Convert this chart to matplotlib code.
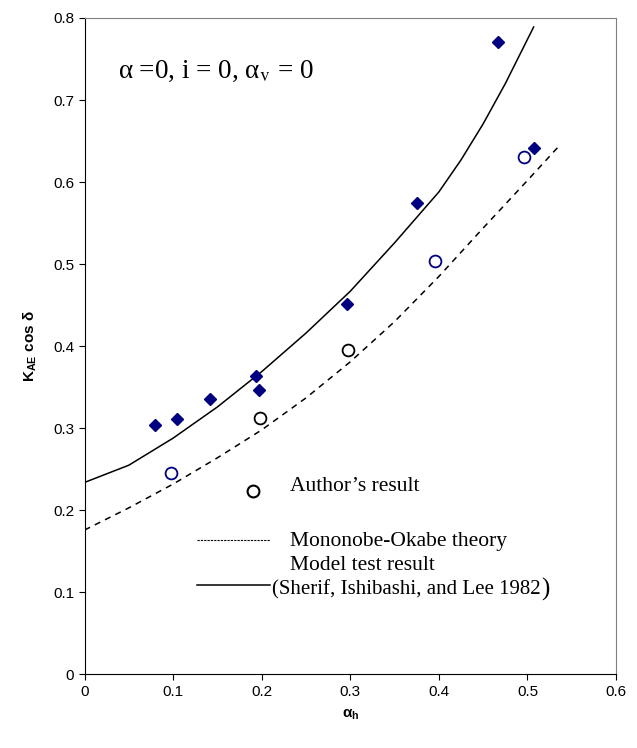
import numpy as np
import matplotlib
matplotlib.use("Agg")
import matplotlib.pyplot as plt
from matplotlib.lines import Line2D

plt.rcParams['font.family'] = ['Liberation Sans', 'DejaVu Sans']
plt.rcParams['mathtext.fontset'] = 'custom'
plt.rcParams['mathtext.rm'] = 'Liberation Sans'
plt.rcParams['mathtext.bf'] = 'Liberation Sans:bold'
plt.rcParams['mathtext.it'] = 'Liberation Sans:italic'

# model test data (diamonds)
test_x = [0.079, 0.104, 0.142, 0.194, 0.197, 0.296, 0.375, 0.467, 0.507]
test_y = [0.304, 0.311, 0.336, 0.364, 0.347, 0.452, 0.575, 0.771, 0.642]

# author's results (circles), two colours
author_blue_x = [0.098, 0.396, 0.496]
author_blue_y = [0.246, 0.504, 0.631]
author_black_x = [0.198, 0.297]
author_black_y = [0.312, 0.395]

# model test curve (solid)
solid_x = [0.0, 0.05, 0.1, 0.15, 0.2, 0.25, 0.3, 0.35, 0.4, 0.425, 0.45, 0.475, 0.507]
solid_y = [0.234, 0.255, 0.288, 0.326, 0.369, 0.416, 0.467, 0.526, 0.588, 0.627, 0.671, 0.72, 0.789]

# Mononobe-Okabe theory (dashed)
mo_x = [0.0, 0.05, 0.1, 0.15, 0.2, 0.25, 0.3, 0.35, 0.4, 0.45, 0.5, 0.534]
mo_y = [0.176, 0.203, 0.232, 0.264, 0.298, 0.337, 0.381, 0.43, 0.485, 0.544, 0.602, 0.642]

x_ticks = [0, 0.1, 0.2, 0.3, 0.4, 0.5, 0.6]
x_labels = ['0', '0.1', '0.2', '0.3', '0.4', '0.5', '0.6']
y_ticks = [0, 0.1, 0.2, 0.3, 0.4, 0.5, 0.6, 0.7, 0.8]
y_labels = ['0', '0.1', '0.2', '0.3', '0.4', '0.5', '0.6', '0.7', '0.8']

navy = '#000080'

fig = plt.figure(figsize=(6.37, 7.48), dpi=100)
ax = fig.add_axes([0.1327, 0.0983, 0.8344, 0.8777])

ax.plot(solid_x, solid_y, color='black', lw=1.1)
ax.plot(mo_x, mo_y, color='black', lw=1.1, dashes=(4, 3.5))
ax.plot(test_x, test_y, 'D', color=navy, ms=6.3, mec=navy)
ax.plot(author_blue_x, author_blue_y, 'o', mfc='white', mec=navy, ms=8.5, mew=1.3)
ax.plot(author_black_x, author_black_y, 'o', mfc='white', mec='black', ms=8.5, mew=1.3)

ax.set_xlim(0, 0.6)
ax.set_ylim(0, 0.8)
ax.set_xticks(x_ticks)
ax.set_xticklabels(x_labels)
ax.set_yticks(y_ticks)
ax.set_yticklabels(y_labels)
ax.tick_params(labelsize=11, length=4, width=0.8, direction='out')

for s in ['top', 'right']:
    ax.spines[s].set_color('#808080')
for s in ['left', 'bottom']:
    ax.spines[s].set_color('black')

ax.set_xlabel('α$_{\\mathbf{h}}$', fontsize=11, fontweight='bold', labelpad=6,
              math_fontfamily='custom')
ax.set_ylabel('K$_{\\mathbf{AE}}$ cos δ', fontsize=11, fontweight='bold', labelpad=10,
              math_fontfamily='custom')

ax.text(0.063, 0.918, 'α =0, i = 0, α$_{\\mathrm{v}}$ = 0', transform=ax.transAxes,
        fontsize=19.5, family='Liberation Serif', math_fontfamily='stix', va='center')

# legend drawn by hand, in axes coordinates
serif = 'Liberation Serif'
ax.add_line(Line2D([0.317], [0.280], marker='o', mfc='white', mec='black', ms=8.5,
                   mew=1.5, transform=ax.transAxes))
ax.add_line(Line2D([0.211, 0.349], [0.2045, 0.2045], color='black', lw=0.8,
                   dashes=(2, 1), transform=ax.transAxes))
ax.add_line(Line2D([0.211, 0.349], [0.1365, 0.1365], color='black', lw=1.1,
                   transform=ax.transAxes))
ax.text(0.387, 0.286, 'Author\u2019s result', transform=ax.transAxes, fontsize=15.5,
        family=serif, va='center')
ax.text(0.387, 0.203, 'Mononobe-Okabe theory', transform=ax.transAxes, fontsize=15.5,
        family=serif, va='center')
ax.text(0.387, 0.166, 'Model test result', transform=ax.transAxes, fontsize=15.5,
        family=serif, va='center')
sherif = ax.text(0.353, 0.129, '(Sherif, Ishibashi, and Lee 1982', transform=ax.transAxes,
                 fontsize=15, family=serif, va='center')
ax.annotate(')', xy=(1, 0.5), xycoords=sherif, fontsize=18, family=serif,
            va='center', ha='left')

fig.savefig('out.png', dpi=100)
